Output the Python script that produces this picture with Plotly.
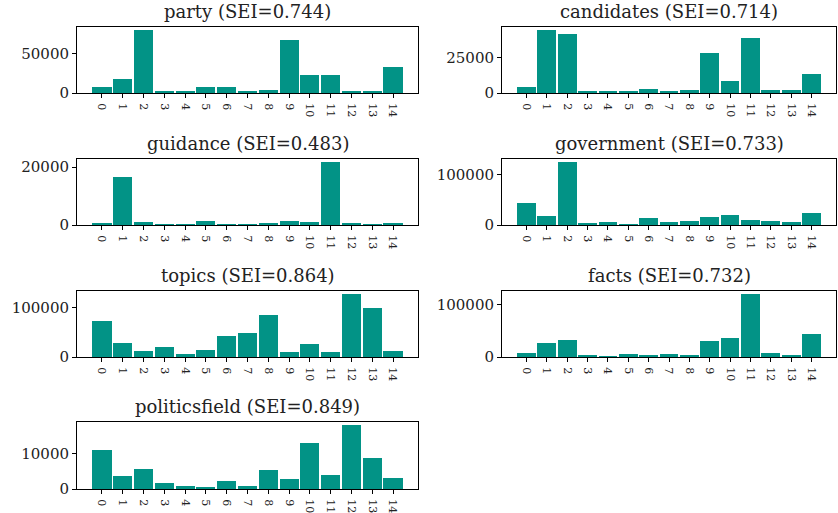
import plotly.graph_objects as go
from plotly.subplots import make_subplots

categories = [str(i) for i in range(15)]

titles = ["party (SEI=0.744)", "candidates (SEI=0.714)", "guidance (SEI=0.483)",
          "government (SEI=0.733)", "topics (SEI=0.864)", "facts (SEI=0.732)",
          "politicsfield (SEI=0.849)"]

party = [7000, 17900, 79200, 2900, 1700, 7000, 7000, 1700, 4200, 66700, 23300, 22100, 2900, 2900, 32900]
candidates = [3970, 44400, 41350, 930, 930, 930, 3040, 930, 1870, 28500, 8640, 39000, 1870, 1870, 13080]
guidance = [480, 16460, 900, 60, 60, 1370, 60, 60, 570, 1370, 900, 21700, 450, 60, 570]
government = [44100, 17800, 125000, 2600, 5300, 300, 13800, 5300, 7900, 15800, 19700, 9900, 7900, 5300, 24300]
topics = [72800, 27900, 12900, 21100, 5400, 15000, 43500, 48300, 85700, 10200, 25800, 10200, 127800, 100600, 12900]
facts = [7000, 26100, 32500, 3200, 500, 5100, 3200, 5100, 3200, 30600, 36900, 119800, 7000, 3200, 43300]
politicsfield = [10850, 3680, 5560, 1600, 750, 380, 2260, 940, 5280, 2830, 13000, 4050, 17900, 8680, 3110]

series = [party, candidates, guidance, government, topics, facts, politicsfield]
ytick_steps = [50000, 25000, 20000, 100000, 100000, 100000, 10000]

W, H = 838, 513
# pixel boxes (left, right, top, bottom)
cols_px = [(77, 418), (502, 836)]
rows_px = [(27, 93), (159, 225), (291, 357), (422, 489)]

fig = make_subplots(rows=4, cols=2)
color = "#029386"

for i, vals in enumerate(series):
    r, c = i // 2, i % 2
    fig.add_trace(go.Bar(x=list(range(15)), y=vals, width=0.92,
                         marker=dict(color=color, line=dict(width=0)),
                         showlegend=False), row=r + 1, col=c + 1)
    idx = "" if i == 0 else str(i + 1)
    xl, xr = cols_px[c]
    yt, yb = rows_px[r]
    ymax = max(vals) * 1.05
    fig.layout["xaxis" + idx].update(
        domain=[xl / W, xr / W], range=[-1.2, 15.2], automargin=False,
        tickvals=list(range(15)), ticktext=categories, tickangle=90,
        tickfont=dict(family="DejaVu Serif", size=11, color="#222"),
        ticklabelstandoff=3,
        showline=True, linecolor="black", linewidth=1, mirror=True,
        ticks="outside", ticklen=4, tickcolor="black", showgrid=False, zeroline=False)
    fig.layout["yaxis" + idx].update(
        domain=[1 - yb / H, 1 - yt / H], range=[0, ymax], automargin=False,
        tickvals=[0, ytick_steps[i]], ticktext=["0", str(ytick_steps[i])],
        tickfont=dict(family="DejaVu Serif", size=15, color="#222"),
        showline=True, linecolor="black", linewidth=1, mirror=True,
        ticks="outside", ticklen=4, tickcolor="black", showgrid=False, zeroline=False)
    fig.add_annotation(text=titles[i], x=(xl + xr) / 2 / W, y=1 - (yt - 3) / H,
                       xref="paper", yref="paper", xanchor="center", yanchor="bottom",
                       showarrow=False, font=dict(family="DejaVu Serif", size=18, color="#222"))

fig.update_layout(width=W, height=H, margin=dict(l=0, r=0, t=0, b=0, autoexpand=False),
                  plot_bgcolor="white", paper_bgcolor="white", bargap=0)
fig.write_html("out.html", config={"displayModeBar": False},
               post_script="document.body.style.margin='0';document.body.style.overflow='hidden';")
